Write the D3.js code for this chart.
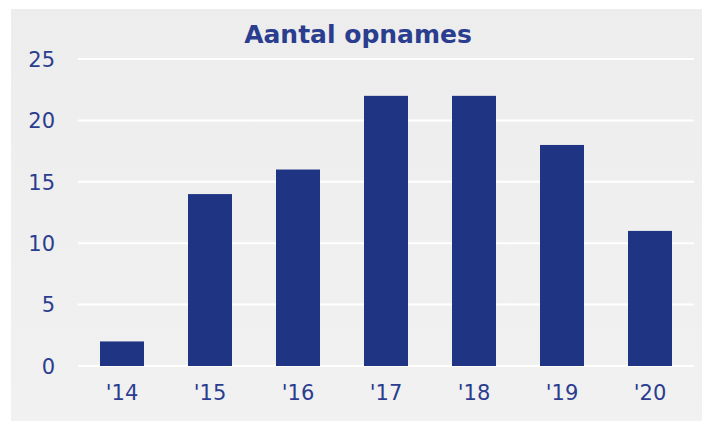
<!DOCTYPE html>
<html>
<head>
<meta charset="utf-8">
<script src="https://cdn.jsdelivr.net/npm/d3@7"></script>
<style>
  body { margin: 0; background: #fff; }
  text { font-family: "DejaVu Sans", sans-serif; fill: #2a3d8f; }
</style>
</head>
<body>
<div id="container"></div>
<script>
/* CONSTANTS AND GLOBALS */
const width = 702,
  height = 421;

const years = ["'14", "'15", "'16", "'17", "'18", "'19", "'20"];
const opnames = [2, 14, 16, 22, 22, 18, 11];
const yTicks = [0, 5, 10, 15, 20, 25];

const svg = d3.select("#container")
  .append("svg")
  .attr("width", width)
  .attr("height", height);

const grad = svg.append("defs").append("linearGradient")
  .attr("id", "bg").attr("x1", 0).attr("y1", 0).attr("x2", 0).attr("y2", 1);
grad.append("stop").attr("offset", "0%").attr("stop-color", "#ededed");
grad.append("stop").attr("offset", "100%").attr("stop-color", "#f1f1f1");

svg.append("rect")
  .attr("x", 11).attr("y", 9)
  .attr("width", width - 11).attr("height", height - 9)
  .attr("fill", "url(#bg)");

// SCALES
const xScale = d3.scaleBand()
  .domain(years)
  .range([78, 694])
  .paddingInner(0.5)
  .paddingOuter(0.25);

const yScale = d3.scaleLinear()
  .domain([0, 25])
  .range([366, 59]);

// GRIDLINES
svg.selectAll(".grid")
  .data(yTicks)
  .join("line")
  .attr("class", "grid")
  .attr("x1", 78).attr("x2", 694)
  .attr("y1", d => yScale(d)).attr("y2", d => yScale(d))
  .attr("stroke", "#ffffff")
  .attr("stroke-width", 2);

// BARS
svg.selectAll(".bar")
  .data(opnames)
  .join("rect")
  .attr("class", "bar")
  .attr("x", (d, i) => xScale(years[i]))
  .attr("width", xScale.bandwidth())
  .attr("y", d => yScale(d))
  .attr("height", d => yScale(0) - yScale(d))
  .attr("fill", "#1f3583");

// AXES
const yAxis = svg.append("g")
  .attr("class", "y-axis")
  .attr("transform", "translate(78,0)")
  .call(d3.axisLeft(yScale).tickValues(yTicks).tickSize(0).tickPadding(23));
yAxis.select(".domain").remove();
yAxis.selectAll("text").style("font-size", "21px").attr("dy", "0.35em").attr("fill", "#2a3d8f");

const xAxis = svg.append("g")
  .attr("class", "x-axis")
  .attr("transform", "translate(0,366)")
  .call(d3.axisBottom(xScale).tickSize(0).tickPadding(19));
xAxis.select(".domain").remove();
xAxis.selectAll("text").style("font-size", "21px").attr("fill", "#2a3d8f");

// TITLE
svg.append("text")
  .attr("x", 358)
  .attr("y", 43)
  .attr("text-anchor", "middle")
  .style("font-size", "25px")
  .style("font-weight", "bold")
  .attr("fill", "#203688")
  .text("Aantal opnames");
</script>
</body>
</html>
